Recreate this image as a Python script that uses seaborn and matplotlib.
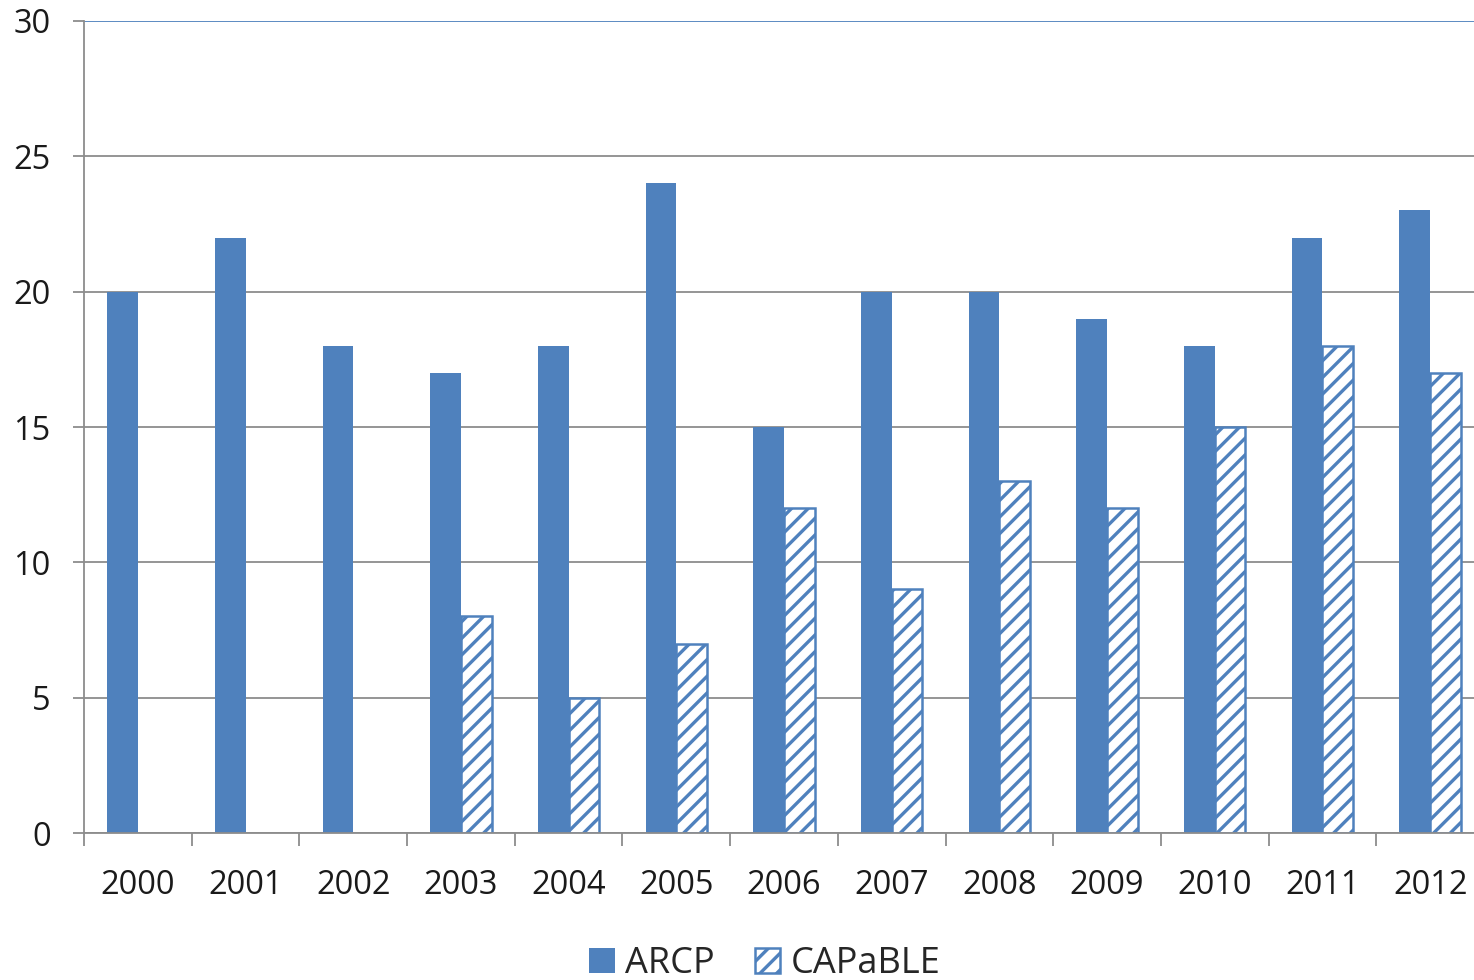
import matplotlib
matplotlib.use("Agg")
import matplotlib.pyplot as plt
from matplotlib.patches import Patch
import seaborn as sns
import pandas as pd
import numpy as np

years = ["2000", "2001", "2002", "2003", "2004", "2005", "2006",
         "2007", "2008", "2009", "2010", "2011", "2012"]
arcp = [20, 22, 18, 17, 18, 24, 15, 20, 20, 19, 18, 22, 23]
capable = [0, 0, 0, 8, 5, 7, 12, 9, 13, 12, 15, 18, 17]
series_names = ["ARCP", "CAPaBLE"]
y_ticks = [0, 5, 10, 15, 20, 25, 30]

BLUE = "#4F81BD"
GRID = "#8C8C8C"

sns.set_theme(style="white")
plt.rcParams["font.family"] = ["Open Sans", "DejaVu Sans"]
plt.rcParams["hatch.linewidth"] = 2.4

df = pd.DataFrame({
    "year": years * 2,
    "value": arcp + capable,
    "series": [series_names[0]] * len(years) + [series_names[1]] * len(years),
})

fig = plt.figure(figsize=(14.74, 9.8), dpi=100)
ax = fig.add_axes([84 / 1474, 1 - 833 / 980, 1400 / 1474, (833 - 21) / 980])

sns.barplot(data=df, x="year", y="value", hue="series", order=years,
            hue_order=series_names, palette=[BLUE, BLUE], width=0.57,
            saturation=1, errorbar=None, legend=False, ax=ax)

n = len(years)
for i, bar in enumerate(ax.patches[:2 * n]):
    if i < n:
        bar.set_facecolor(BLUE)
        bar.set_edgecolor(BLUE)
        bar.set_linewidth(0)
    else:
        bar.set_facecolor("white")
        bar.set_edgecolor(BLUE)
        bar.set_hatch("//")
        bar.set_linewidth(1.8 if bar.get_height() > 0 else 0)

ax.set_xlim(-0.5, n - 0.5)
ax.set_ylim(0, 30)
ax.set_yticks(y_ticks)
ax.set_xlabel("")
ax.set_ylabel("")

# gridlines
ax.set_axisbelow(True)
ax.yaxis.grid(True, color=GRID, linewidth=1.3)
ax.yaxis.get_gridlines()[-1].set_color(BLUE)

# category boundary ticks
ax.set_xticks(np.arange(-0.5, n, 1.0), minor=True)
ax.tick_params(axis="x", which="major", length=0, pad=26, labelsize=23.5,
               labelcolor="#1a1a1a")
ax.tick_params(axis="x", which="minor", length=9, width=1.3, color=GRID,
               direction="out", bottom=True)
ax.tick_params(axis="y", which="major", length=8, width=1.3, color=GRID,
               direction="out", left=True, pad=16, labelsize=23.5,
               labelcolor="#1a1a1a")

for side in ["top", "right"]:
    ax.spines[side].set_visible(False)
for side in ["left", "bottom"]:
    ax.spines[side].set_color(GRID)
    ax.spines[side].set_linewidth(1.3)

# legend
handles = [
    Patch(facecolor=BLUE, edgecolor=BLUE, linewidth=0),
    Patch(facecolor="white", edgecolor=BLUE, hatch="//", linewidth=1.8),
]
fig.legend(handles, series_names, loc="center", bbox_to_anchor=(0.519, 0.016),
           ncol=2, frameon=False, fontsize=26, handlelength=0.7,
           handleheight=0.7, handletextpad=0.3, columnspacing=1.1,
           borderaxespad=0, borderpad=0)

fig.savefig("out.png", dpi=100)
